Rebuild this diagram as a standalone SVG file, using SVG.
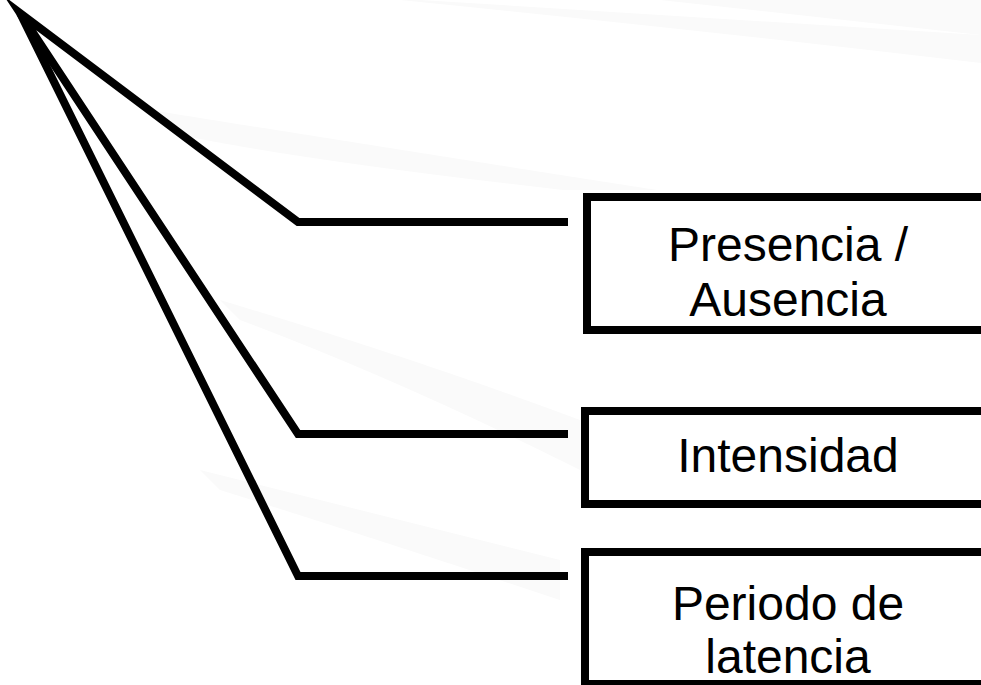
<svg xmlns="http://www.w3.org/2000/svg" width="981" height="685" viewBox="0 0 981 685">
<style>
.bg{fill:#fafafa;stroke:none}
.ln{fill:none;stroke:#000;stroke-width:8;stroke-linejoin:miter;stroke-miterlimit:10}
.box{fill:none;stroke:#000;stroke-width:8}
.t{font-family:"Liberation Sans",Arial,sans-serif;font-size:48px;fill:#000;text-anchor:middle}
</style>
<rect width="981" height="685" fill="#fff"/>
<g id="background">
<path class="bg" d="M420,0 L981,35 L981,63 Q700,30 400,0 Z"/>
<path class="bg" d="M660,0 L981,0 L981,35 Z"/>
<path class="bg" d="M150,110 Q400,150 657,190 L563,190 Q300,160 180,135 Z"/>
<path class="bg" d="M220,300 Q420,360 580,420 L580,470 Q400,380 240,320 Z"/>
<path class="bg" d="M200,470 Q400,520 560,560 L560,600 Q380,540 220,490 Z"/>
</g>
<g id="connectors">
<path class="ln" d="M568,222 H298 L20,13 L298,434 H568"/>
<path class="ln" d="M20,13 L298,576 H568"/>
</g>
<g id="node-presencia">
<rect class="box" x="587" y="197" width="420" height="133"/>
<text class="t" x="788" y="261">Presencia /</text>
<text class="t" x="788" y="316">Ausencia</text>
</g>
<g id="node-intensidad">
<rect class="box" x="585" y="411" width="420" height="93"/>
<text class="t" x="788" y="472">Intensidad</text>
</g>
<g id="node-periodo">
<rect class="box" x="585" y="552" width="420" height="132"/>
<text class="t" x="788" y="620">Periodo de</text>
<text class="t" x="788" y="673">latencia</text>
</g>
</svg>
